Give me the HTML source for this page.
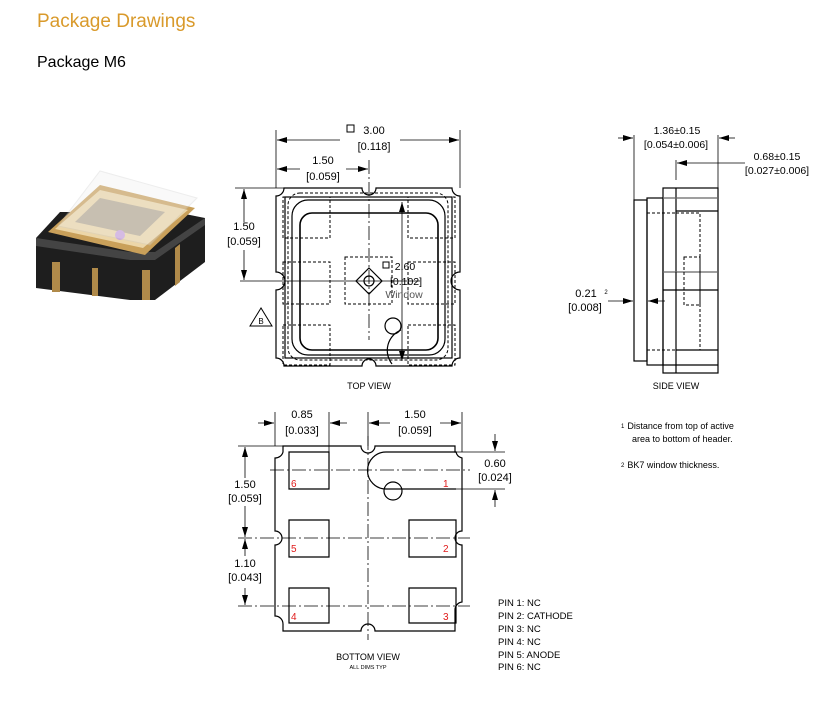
<!DOCTYPE html>
<html><head><meta charset="utf-8"><style>
html,body{margin:0;padding:0;background:#fff;}
body{width:828px;height:702px;overflow:hidden;position:relative;font-family:"Liberation Sans",sans-serif;}
svg{position:absolute;left:0;top:0;}
</style></head><body>
<svg width="828" height="702" viewBox="0 0 828 702" xmlns="http://www.w3.org/2000/svg" font-family="Liberation Sans, sans-serif">
<defs>
<marker id="a" viewBox="0 0 10 6" refX="10" refY="3" markerWidth="10" markerHeight="6" orient="auto-start-reverse" markerUnits="userSpaceOnUse"><path d="M0,0 L10,3 L0,6 z" fill="#000"/></marker>
</defs>
<text x="37" y="27" font-size="19" fill="#d99a2b">Package Drawings</text>
<text x="37" y="67" font-size="16" fill="#000">Package M6</text>

<!-- 3D image -->
<g>
<polygon points="36,238 36,288 130,300 155,300 205,262 205,218 175,212 60,212" fill="#1e1e1e"/>
<polygon points="36,238 130,252 155,252 205,218 205,225 155,260 130,260 36,246" fill="#444"/>
<rect x="52" y="262" width="8" height="30" fill="#b08a4a"/>
<rect x="92" y="268" width="6" height="28" fill="#b08a4a"/>
<rect x="142" y="270" width="8" height="30" fill="#b08a4a"/>
<polygon points="175,248 180,244 180,282 175,286" fill="#b08a4a"/>
<polygon points="48,232 100,185 195,208 145,255" fill="#c9a05a"/>
<polygon points="55,229 100,190 188,210 143,248" fill="#ecd6a8"/>
<polygon points="75,222 100,198 165,212 140,236" fill="#777" opacity="0.5"/>
<circle cx="120" cy="235" r="5" fill="#c8a0e0"/>
<polygon points="58,226 100,171 197,198 150,245" fill="#eeeeee" opacity="0.35" stroke="#ccc" stroke-width="1"/>
</g>

<g fill="none" stroke="#000" stroke-width="1.2">
<!-- TOP VIEW -->
<path d="M284,188 H362 A7,7 0 0 0 376,188 H452 A8,8 0 0 0 460,196 V272 A8,8 0 0 0 460,290 V358 A8,8 0 0 0 452,366 H376 A7,7 0 0 0 362,366 H284 A8,8 0 0 0 276,358 V290 A8,8 0 0 0 276,272 V196 A8,8 0 0 0 284,188 Z"/>
<rect x="285" y="197" width="167" height="161"/>
<rect x="292" y="200" width="153" height="155" rx="16"/>
<rect x="300" y="213" width="138" height="137" rx="12" stroke-width="1.6"/>
<g stroke-dasharray="3,2" stroke-width="1">
<rect x="283" y="197" width="47" height="41"/><rect x="283" y="262" width="47" height="42"/><rect x="283" y="325" width="47" height="40"/>
<rect x="408" y="197" width="47" height="41"/><rect x="408" y="262" width="47" height="42"/><rect x="408" y="325" width="47" height="40"/>
<rect x="345" y="257" width="47" height="47"/>
<rect x="288" y="193" width="160" height="167" rx="12"/>
</g>
<path d="M369,268 L382,281 L369,294 L356,281 Z"/>
<circle cx="369" cy="281" r="5"/>
<circle cx="393" cy="326" r="8"/>
<path d="M401,330 A22,22 0 0 0 392,364"/>
<g stroke-width="0.8"><line x1="369" y1="160" x2="369" y2="340" stroke-dasharray="14,3,2,3"/><line x1="240" y1="281" x2="420" y2="281"/></g>
<g stroke-width="0.8">
<line x1="276" y1="130" x2="276" y2="188"/><line x1="460" y1="130" x2="460" y2="188"/>
<line x1="277" y1="140" x2="340" y2="140" marker-start="url(#a)"/><line x1="400" y1="140" x2="459" y2="140" marker-end="url(#a)"/>
<line x1="277" y1="169" x2="300" y2="169" marker-start="url(#a)"/><line x1="346" y1="169" x2="368" y2="169" marker-end="url(#a)"/>
<line x1="235" y1="188" x2="284" y2="188"/><line x1="244" y1="189" x2="244" y2="222" marker-start="url(#a)"/><line x1="244" y1="250" x2="244" y2="280" marker-end="url(#a)"/>
<line x1="402" y1="202" x2="402" y2="361" marker-start="url(#a)" marker-end="url(#a)"/>
</g>
<polygon points="261,308 250,326 272,326" stroke-width="1"/>

<!-- SIDE VIEW -->
<rect x="663" y="188" width="55" height="185"/>
<line x1="676" y1="188" x2="676" y2="373"/>
<rect x="647" y="198" width="16" height="167"/>
<rect x="634" y="200" width="13" height="161"/>
<line x1="663" y1="198" x2="718" y2="198" stroke="#666"/><line x1="676" y1="211" x2="718" y2="211"/><line x1="676" y1="350" x2="718" y2="350"/><line x1="663" y1="365" x2="718" y2="365"/>
<line x1="663" y1="272" x2="718" y2="272" stroke="#666"/><line x1="663" y1="290" x2="718" y2="290"/>
<g stroke-dasharray="3,2" stroke-width="1"><rect x="676" y="213" width="24" height="137"/><rect x="684" y="257" width="16" height="48"/><line x1="647" y1="213" x2="676" y2="213"/><line x1="647" y1="350" x2="676" y2="350"/></g>
<g stroke-width="0.8">
<line x1="634" y1="135" x2="634" y2="200"/><line x1="718" y1="135" x2="718" y2="188"/>
<line x1="618" y1="138" x2="633" y2="138" marker-end="url(#a)"/><line x1="735" y1="138" x2="719" y2="138" marker-end="url(#a)"/>
<line x1="676" y1="160" x2="676" y2="180"/>
<line x1="745" y1="163" x2="677" y2="163" marker-end="url(#a)"/>
<line x1="608" y1="301" x2="633" y2="301" marker-end="url(#a)"/><line x1="665" y1="301" x2="648" y2="301" marker-end="url(#a)"/>
</g>

<!-- BOTTOM VIEW -->
<path d="M283,446 H361 A7,7 0 0 0 375,446 H455 V452 H456 A8,8 0 0 0 462,458 V531 A7,7 0 0 0 462,545 V602 A8,8 0 0 0 455,610 V631 H375 A7,7 0 0 0 361,631 H283 V624 A8,8 0 0 0 275,616 V545 A7,7 0 0 0 275,531 V458 A8,8 0 0 0 283,452 Z"/>
<path d="M289,452 H329 V489 H289 Z"/><path d="M289,520 H329 V557 H289 Z"/><path d="M289,588 H329 V623 H289 Z"/>
<path d="M409,520 H456 V557 H409 Z"/><path d="M409,588 H456 V623 H409 Z"/>
<path d="M456,452 H386 A18,18 0 0 0 386,489 H456"/>
<circle cx="393" cy="491" r="9"/>
<g stroke-width="0.8">
<line x1="368" y1="436" x2="368" y2="640" stroke-dasharray="14,3,2,3"/>
<line x1="270" y1="470" x2="470" y2="470" stroke-dasharray="14,3,2,3"/>
<line x1="238" y1="538" x2="470" y2="538" stroke-dasharray="14,3,2,3"/>
<line x1="238" y1="606" x2="470" y2="606" stroke-dasharray="14,3,2,3"/>
<line x1="238" y1="446" x2="283" y2="446"/>
<line x1="275" y1="412" x2="275" y2="446"/><line x1="329" y1="412" x2="329" y2="452"/><line x1="368" y1="412" x2="368" y2="446"/><line x1="462" y1="412" x2="462" y2="452"/>
<line x1="258" y1="423" x2="274" y2="423" marker-end="url(#a)"/><line x1="347" y1="423" x2="330" y2="423" marker-end="url(#a)"/>
<line x1="369" y1="423" x2="390" y2="423" marker-start="url(#a)"/><line x1="440" y1="423" x2="461" y2="423" marker-end="url(#a)"/>
<line x1="245" y1="447" x2="245" y2="478" marker-start="url(#a)"/><line x1="245" y1="506" x2="245" y2="537" marker-end="url(#a)"/>
<line x1="245" y1="539" x2="245" y2="556" marker-start="url(#a)"/><line x1="245" y1="588" x2="245" y2="605" marker-end="url(#a)"/>
<line x1="456" y1="452" x2="505" y2="452"/><line x1="456" y1="489" x2="505" y2="489"/>
<line x1="495" y1="434" x2="495" y2="451" marker-end="url(#a)"/><line x1="495" y1="507" x2="495" y2="490" marker-end="url(#a)"/>
</g>
</g>

<g font-size="11" fill="#000" text-anchor="middle">
<rect x="347" y="125" width="7" height="7" fill="none" stroke="#000" stroke-width="1"/>
<text x="374" y="134">3.00</text><text x="374" y="150">[0.118]</text>
<text x="323" y="164">1.50</text><text x="323" y="180">[0.059]</text>
<text x="244" y="230">1.50</text><text x="244" y="245">[0.059]</text>
<rect x="383" y="262" width="6" height="6" fill="none" stroke="#000" stroke-width="1"/>
<text x="405" y="270" font-size="10.5">2.60</text><text x="406" y="285" font-size="10.5">[0.102]</text><text x="404" y="298" font-size="10.5" fill="#555">Window</text>
<text x="261" y="324" font-size="8">B</text>
<text x="369" y="389" font-size="9">TOP VIEW</text>
<text x="677" y="134" font-size="10.5">1.36±0.15</text><text x="676" y="148" font-size="10.5">[0.054±0.006]</text>
<text x="777" y="160" font-size="10.5">0.68±0.15</text><text x="777" y="174" font-size="10.5">[0.027±0.006]</text>
<text x="586" y="297">0.21</text><text x="606" y="294" font-size="6">2</text><text x="585" y="311">[0.008]</text>
<text x="676" y="389" font-size="9">SIDE VIEW</text>
<text x="302" y="418">0.85</text><text x="302" y="434">[0.033]</text>
<text x="415" y="418">1.50</text><text x="415" y="434">[0.059]</text>
<text x="245" y="488">1.50</text><text x="245" y="502">[0.059]</text>
<text x="245" y="567">1.10</text><text x="245" y="581">[0.043]</text>
<text x="495" y="467">0.60</text><text x="495" y="481">[0.024]</text>
<text x="368" y="660" font-size="9">BOTTOM VIEW</text>
<text x="368" y="669" font-size="5.5">ALL DIMS TYP</text>
</g>
<g font-size="10" fill="#e01b1b">
<text x="291" y="487">6</text><text x="443" y="487">1</text>
<text x="291" y="552">5</text><text x="443" y="552">2</text>
<text x="291" y="620">4</text><text x="443" y="620">3</text>
</g>
<g font-size="9.5" fill="#000">
<text x="498" y="606">PIN 1: NC</text><text x="498" y="619">PIN 2: CATHODE</text><text x="498" y="632">PIN 3: NC</text>
<text x="498" y="645">PIN 4: NC</text><text x="498" y="658">PIN 5: ANODE</text><text x="498" y="670">PIN 6: NC</text>
</g>
<g font-size="9" fill="#000">
<text x="621" y="429"><tspan font-size="6" dy="-1">1</tspan><tspan dx="3" dy="1">Distance from top of active</tspan></text>
<text x="632" y="442">area to bottom of header.</text>
<text x="621" y="468"><tspan font-size="6" dy="-1">2</tspan><tspan dx="3" dy="1">BK7 window thickness.</tspan></text>
</g>
</svg>
</body></html>
